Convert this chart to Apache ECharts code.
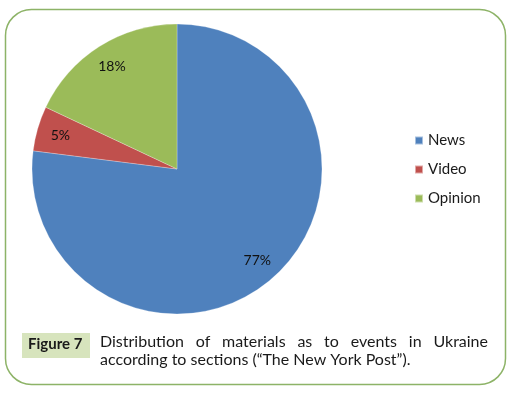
<!DOCTYPE html>
<html><head><meta charset="utf-8">
<script src="https://cdn.jsdelivr.net/npm/echarts@6/dist/echarts.min.js"></script>
<style>html,body{margin:0;padding:0;background:#fff}#c{width:514px;height:393px}</style>
</head><body><div id="c"></div>
<script>
const categories = ['News', 'Video', 'Opinion'];
const values = [77, 5, 18];
const colors = ['#4F81BD', '#C0504D', '#9BBB59'];
const captionLabel = 'Figure 7';
const captionLine1 = 'Distribution of materials as to events in Ukraine';
const captionLine2 = 'according to sections (\u201CThe New York Post\u201D).';

const FONT = 'Lato';
const chart = echarts.init(document.getElementById('c'), null, {renderer: 'canvas'});
const data = categories.map((n, i) => ({name: n, value: values[i], itemStyle: {color: colors[i]}}));

// justify caption line 1
const cv = document.createElement('canvas').getContext('2d');
const capSize = 16;
cv.font = capSize + 'px ' + FONT;
const words = captionLine1.split(' ');
const x0 = 100, x1 = 488;
const wsum = words.reduce((s, w) => s + cv.measureText(w).width, 0);
const gap = (x1 - x0 - wsum) / (words.length - 1);
const wordEls = [];
let cx = x0;
words.forEach(w => {
  wordEls.push({type: 'text', left: cx, top: 334, style: {text: w, font: capSize + 'px ' + FONT, fill: '#1a1a1a'}});
  cx += cv.measureText(w).width + gap;
});

chart.setOption({
  animation: false,
  color: colors,
  legend: {
    orient: 'vertical', left: 409, top: 128,
    icon: 'rect', itemWidth: 8, itemHeight: 8, itemGap: 14,
    textStyle: {fontFamily: FONT, fontSize: 15, color: '#1a1a1a'},
    data: categories
  },
  series: [{
    type: 'pie', center: [177, 169], radius: [0, 145], startAngle: 90, clockwise: true,
    label: {show: false}, labelLine: {show: false}, silent: true,
    itemStyle: {borderColor: 'rgba(255,255,255,0.5)', borderWidth: 0.5},
    data: data
  }, {
    type: 'pie', center: [177, 169], radius: [92, 145], startAngle: 90, clockwise: true,
    silent: true, legendHoverLink: false,
    itemStyle: {color: 'transparent'},
    label: {show: true, position: 'inside', formatter: '{c}%', fontFamily: FONT, fontSize: 14, color: '#111'},
    labelLine: {show: false},
    data: categories.map((n, i) => ({name: n + ' ', value: values[i]}))
  }],
  graphic: [
    {type: 'rect', shape: {x: 5.5, y: 9.5, width: 500, height: 375, r: 26}, style: {fill: 'none', stroke: '#8DB367', lineWidth: 1.5}},
    {type: 'rect', shape: {x: 22, y: 333, width: 68, height: 25}, style: {fill: '#D7E4BD'}},
    {type: 'text', left: 28, top: 337, style: {text: captionLabel, font: 'bold 15px ' + FONT, fill: '#1a1a1a'}},
    ...wordEls,
    {type: 'text', left: x0, top: 352, style: {text: captionLine2, font: capSize + 'px ' + FONT, fill: '#1a1a1a'}}
  ]
});
</script></body></html>
